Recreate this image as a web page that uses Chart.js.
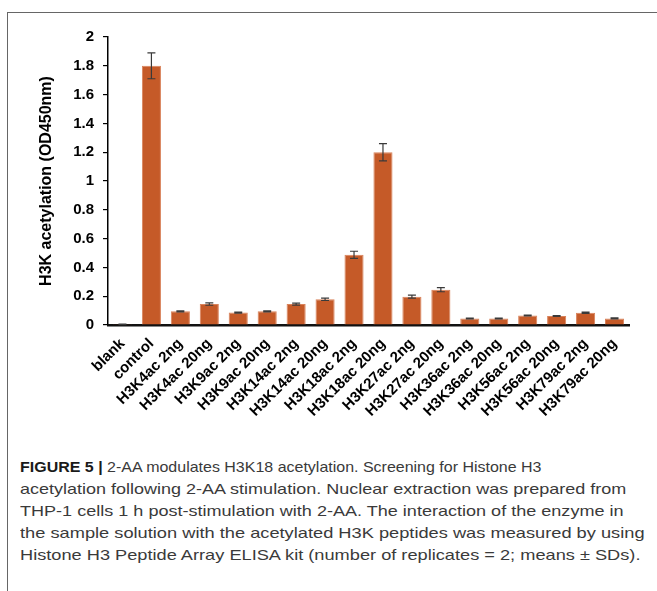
<!DOCTYPE html>
<html><head><meta charset="utf-8">
<script src="https://cdn.jsdelivr.net/npm/chart.js@4/dist/chart.umd.min.js"></script>
<style>
html,body{margin:0;padding:0;background:#fff;width:657px;height:591px;overflow:hidden}
#frame{position:absolute;left:7px;top:12px;width:700px;height:620px;border-top:1px solid #666;border-left:1px solid #666}
#c{position:absolute;left:0;top:0}
#cap{position:absolute;left:20px;top:456px;width:640px;font-family:"Liberation Sans",Arial,sans-serif;font-size:15px;line-height:22px;color:#3a3a3a;white-space:nowrap}
#cap div{height:22px}
#cap span{display:inline-block;transform-origin:0 0}
#cap b{color:#1a1a1a}
</style></head><body>
<div id="frame"></div>
<canvas id="c" width="657" height="450"></canvas>
<div id="cap">
<div><span data-w="521"><b>FIGURE 5 |</b> 2-AA modulates H3K18 acetylation. Screening for Histone H3</span></div>
<div><span data-w="606">acetylation following 2-AA stimulation. Nuclear extraction was prepared from</span></div>
<div><span data-w="604">THP-1 cells 1 h post-stimulation with 2-AA. The interaction of the enzyme in</span></div>
<div><span data-w="625">the sample solution with the acetylated H3K peptides was measured by using</span></div>
<div><span data-w="620">Histone H3 Peptide Array ELISA kit (number of replicates = 2; means ± SDs).</span></div>
</div>
<script>
const categories = ["blank","control","H3K4ac 2ng","H3K4ac 20ng","H3K9ac 2ng","H3K9ac 20ng","H3K14ac 2ng","H3K14ac 20ng","H3K18ac 2ng","H3K18ac 20ng","H3K27ac 2ng","H3K27ac 20ng","H3K36ac 2ng","H3K36ac 20ng","H3K56ac 2ng","H3K56ac 20ng","H3K79ac 2ng","H3K79ac 20ng"];
const means = [0.005,1.80,0.095,0.145,0.086,0.095,0.145,0.178,0.487,1.20,0.197,0.245,0.045,0.045,0.066,0.062,0.085,0.046];
const sds   = [0.002,0.09,0.004,0.008,0.003,0.004,0.007,0.008,0.025,0.06,0.010,0.014,0.003,0.003,0.003,0.003,0.004,0.003];
const yTitle = "H3K acetylation (OD450nm)";

const FONT = {family:"'Liberation Sans', Arial, sans-serif", size:15, weight:'bold'};
const TFONT = {family:"'Liberation Sans', Arial, sans-serif", size:16, weight:'bold'};

const errorBars = {
  id:'errorBars',
  afterDatasetsDraw(chart){
    const ctx = chart.ctx, y = chart.scales.y, meta = chart.getDatasetMeta(0);
    ctx.save();
    ctx.strokeStyle = '#3a3a3a';
    ctx.lineWidth = 1.2;
    meta.data.forEach((bar,i)=>{
      const x = bar.x;
      const t = y.getPixelForValue(means[i]+sds[i]);
      const b = y.getPixelForValue(means[i]-sds[i]);
      ctx.beginPath();
      ctx.moveTo(x,t); ctx.lineTo(x,b);
      ctx.moveTo(x-4,t); ctx.lineTo(x+4,t);
      ctx.moveTo(x-4,b); ctx.lineTo(x+4,b);
      ctx.stroke();
    });
    ctx.restore();
  }
};

new Chart(document.getElementById('c'), {
  type:'bar',
  data:{labels:categories, datasets:[{data:means, backgroundColor:'#c55a28', borderColor:'#d9825a', borderWidth:{top:1,left:1,right:1,bottom:0}, barPercentage:0.66, categoryPercentage:1}]},
  options:{
    responsive:false, animation:false, devicePixelRatio:1,
    layout:{padding:{top:37,right:28,left:0,bottom:0}},
    plugins:{legend:{display:false}, tooltip:{enabled:false}},
    scales:{
      x:{
        grid:{display:false},
        border:{display:true,color:'#111',width:2.5},
        ticks:{color:'#000', font:FONT, maxRotation:45, minRotation:45, padding:2, autoSkip:false},
        afterFit(s){ s.height = 450-325; }
      },
      y:{
        min:0, max:2,
        grid:{display:true, drawOnChartArea:false, drawTicks:true, tickLength:5, color:'#000', lineWidth:1.2},
        border:{display:true,color:'#000',width:1.5},
        ticks:{stepSize:0.2, color:'#000', font:FONT, padding:9, callback:v=>String(+v.toFixed(1))},
        title:{display:true, text:yTitle, color:'#000', font:TFONT, padding:{top:37,bottom:0}},
        afterFit(s){ s.width = 108; }
      }
    }
  },
  plugins:[errorBars]
});

document.querySelectorAll('#cap span[data-w]').forEach(s=>{
  const w = s.offsetWidth;
  s.style.transform = 'scaleX(' + (+s.dataset.w / w) + ')';
});
</script>
</body></html>
